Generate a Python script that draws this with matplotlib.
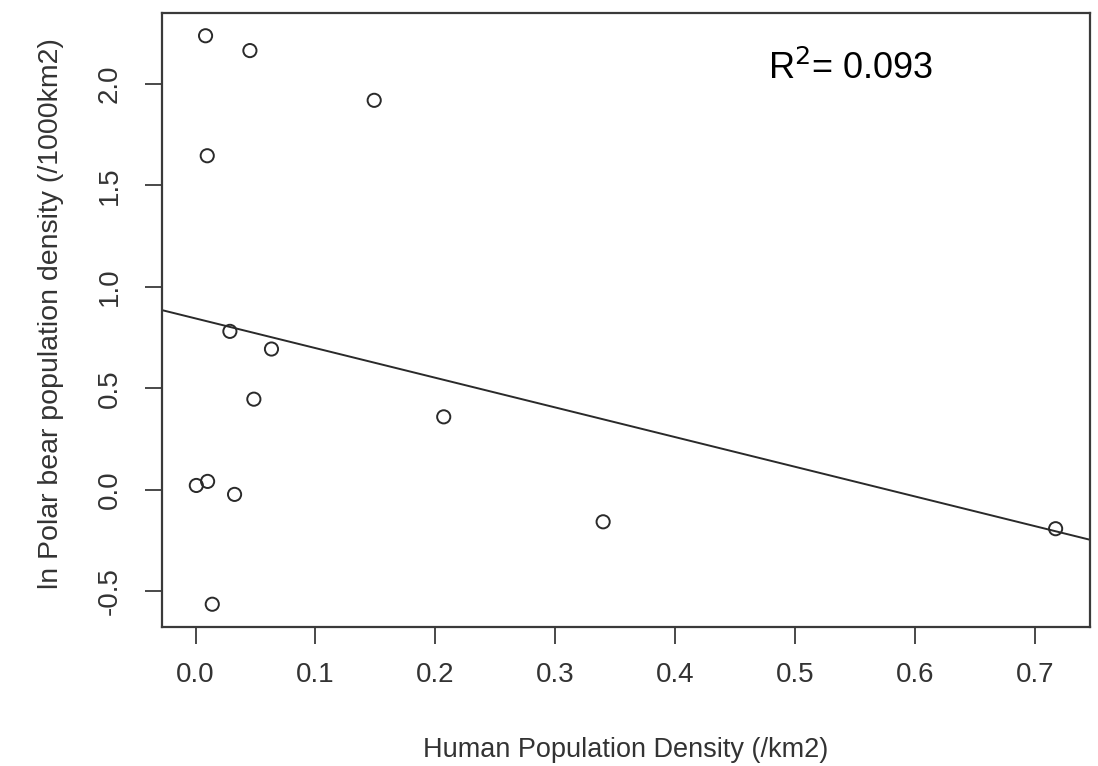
import numpy as np
import matplotlib
matplotlib.use("Agg")
import matplotlib.pyplot as plt

plt.rcParams['font.family'] = ['Liberation Sans', 'DejaVu Sans']

# human population density (/km2) vs ln polar bear density (/1000km2)
human_density = [0.0083, 0.0453, 0.149, 0.0097, 0.0286, 0.0633, 0.0486,
                 0.207, 0.0006, 0.010, 0.0325, 0.0139, 0.340, 0.7175]
ln_bear_density = [2.236, 2.163, 1.918, 1.645, 0.780, 0.693, 0.446,
                   0.359, 0.021, 0.041, -0.023, -0.564, -0.158, -0.192]
x_ticks = [0.0, 0.1, 0.2, 0.3, 0.4, 0.5, 0.6, 0.7]
y_ticks = [-0.5, 0.0, 0.5, 1.0, 1.5, 2.0]
r2_label = "R$^2$= 0.093"

x = np.array(human_density)
y = np.array(ln_bear_density)
slope, intercept = np.polyfit(x, y, 1)

fig = plt.figure(figsize=(10.98, 7.66), dpi=100)
ax = fig.add_axes([0.1475, 0.1815, 0.8452, 0.8015])

# R style 4% padding
xr = x.max() - x.min()
yr = y.max() - y.min()
xlim = (x.min() - 0.04 * xr, x.max() + 0.04 * xr)
ylim = (y.min() - 0.04 * yr, y.max() + 0.04 * yr)

ax.scatter(x, y, s=90, facecolors='none', edgecolors='#2a2a2a', linewidths=1.4, zorder=3)
xs = np.array(xlim)
ax.plot(xs, intercept + slope * xs, color='#2a2a2a', lw=1.4)

ax.set_xlim(xlim)
ax.set_ylim(ylim)
ax.set_xticks(x_ticks)
ax.set_xticklabels([f"{v:.1f}" for v in x_ticks])
ax.set_yticks(y_ticks)
ax.set_yticklabels([f"{v:.1f}" for v in y_ticks], rotation=90, va='center')

for sp in ax.spines.values():
    sp.set_color('#3a3a3a')
    sp.set_linewidth(1.6)
ax.tick_params(direction='out', length=12, width=1.3, color='#3a3a3a',
               labelsize=20, labelcolor='#333333')
ax.tick_params(axis='x', pad=13)
ax.tick_params(axis='y', pad=16)

ax.set_xlabel("Human Population Density (/km2)", fontsize=19.5, color='#333333')
ax.xaxis.set_label_coords(0.5, (627 - 757) / 614)
ax.xaxis.label.set_verticalalignment('baseline')

ax.set_ylabel("ln Polar bear population density (/1000km2)", fontsize=20.5, color='#333333')
ax.yaxis.set_label_coords((64 - 162) / 928, 0.51)

ax.text(0.653, 0.8925, r2_label, transform=ax.transAxes, fontsize=26, color='black',
        ha='left', va='baseline')

fig.savefig("out.png", dpi=100)
